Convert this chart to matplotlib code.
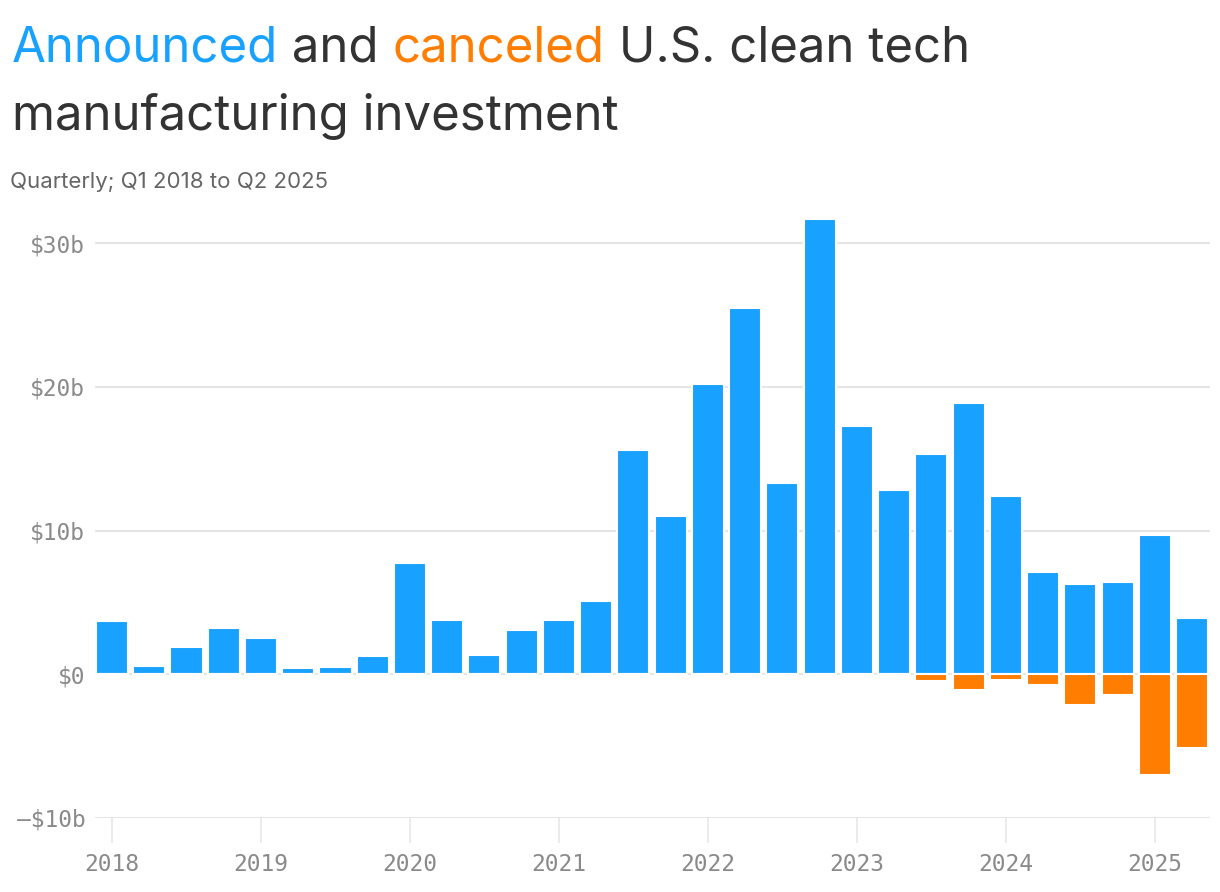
import numpy as np
import matplotlib
matplotlib.use("Agg")
import matplotlib.pyplot as plt

# quarterly values, $ billions, Q1 2018 .. Q2 2025
quarters = [f"Q{q} {y}" for y in range(2018, 2026) for q in range(1, 5)][:30]
announced = [3.7, 0.55, 1.9, 3.2, 2.5, 0.45, 0.5, 1.25,
             7.75, 3.8, 1.35, 3.1, 3.8, 5.1, 15.6, 11.0,
             20.2, 25.5, 13.3, 31.7, 17.3, 12.8, 15.3, 18.9,
             12.4, 7.1, 6.3, 6.4, 9.7, 3.95]
canceled = [0] * 22 + [0.45, 1.1, 0.4, 0.75, 2.15, 1.45, 7.0, 5.1]
year_labels = ["2018", "2019", "2020", "2021", "2022", "2023", "2024", "2025"]
y_ticks = [-10, 0, 10, 20, 30]
y_labels = ["\u2013$10b", "$0", "$10b", "$20b", "$30b"]

BLUE = "#18a1ff"
ORANGE = "#ff7d00"
GRID = "#e6e6e6"

W, H = 1220, 892
fig = plt.figure(figsize=(W / 100, H / 100), dpi=100)
ax = fig.add_axes([95 / W, 74 / H, 1115 / W, (818 - 214.5) / H])

x = np.arange(len(quarters))
ax.bar(x, announced, width=0.862, color=BLUE, edgecolor="white", linewidth=1.5, zorder=3)
ax.bar(x, [-v for v in canceled], width=0.862, color=ORANGE, edgecolor="white", linewidth=1.5, zorder=3)

ax.set_xlim(-0.456, 29.48)
ax.set_ylim(-10, 32)
ax.set_axisbelow(True)
ax.set_yticks(y_ticks)
ax.set_yticklabels(y_labels)
ax.grid(axis="y", color=GRID, linewidth=1.5)
ax.set_xticks(x[::4])
ax.set_xticklabels(year_labels)
for s in ax.spines.values():
    s.set_visible(False)

mono = "DejaVu Sans Mono"
ax.tick_params(axis="y", length=0, pad=7, labelsize=16.5, labelcolor="#8a8a8a")
ax.tick_params(axis="x", length=18, width=1.1, color=GRID, pad=7, labelsize=16.5, labelcolor="#8a8a8a")
for lab in ax.get_xticklabels() + ax.get_yticklabels():
    lab.set_family(mono)

# title with coloured words
title_font = dict(family="Inter", fontsize=35.4, va="baseline")
r = fig.canvas.get_renderer()
xpos = 12
for word, col in [("Announced", BLUE), (" and ", "#333333"), ("canceled", ORANGE), (" U.S. clean tech", "#333333")]:
    t = fig.text(xpos / W, 1 - 62 / H, word, color=col, **title_font)
    xpos = t.get_window_extent(r).x1
fig.text(12 / W, 1 - 130 / H, "manufacturing investment", color="#333333", **title_font)
fig.text(10 / W, 1 - 188 / H, "Quarterly; Q1 2018 to Q2 2025", color="#666666",
         family="Inter", fontsize=16, va="baseline")

fig.savefig("out.png", dpi=100)
